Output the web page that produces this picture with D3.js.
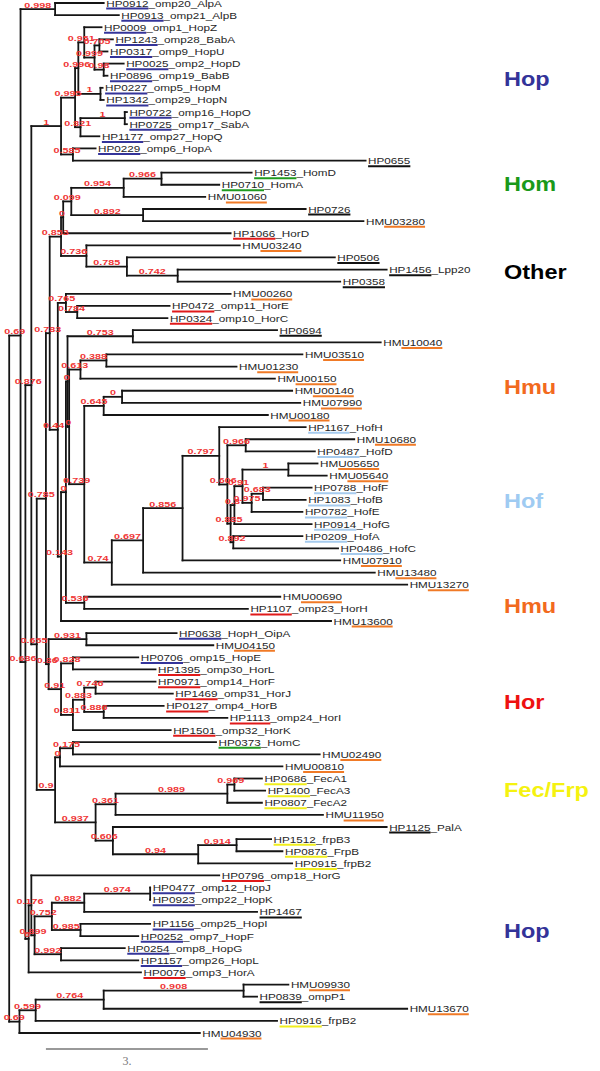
<!DOCTYPE html>
<html><head><meta charset="utf-8">
<script src="https://cdn.jsdelivr.net/npm/d3@7"></script>
<style>body{margin:0;background:#fff}</style>
</head><body><svg id="c" width="600" height="1071"></svg>
<script>
// ---- leaves (top to bottom) ----
const leafNames=["HP0912_omp20_AlpA","HP0913_omp21_AlpB","HP0009_omp1_HopZ","HP1243_omp28_BabA","HP0317_omp9_HopU","HP0025_omp2_HopD","HP0896_omp19_BabB","HP0227_omp5_HopM","HP1342_omp29_HopN","HP0722_omp16_HopO","HP0725_omp17_SabA","HP1177_omp27_HopQ","HP0229_omp6_HopA","HP0655","HP1453_HomD","HP0710_HomA","HMU01060","HP0726","HMU03280","HP1066_HorD","HMU03240","HP0506","HP1456_Lpp20","HP0358","HMU00260","HP0472_omp11_HorE","HP0324_omp10_HorC","HP0694","HMU10040","HMU03510","HMU01230","HMU00150","HMU00140","HMU07990","HMU00180","HP1167_HofH","HMU10680","HP0487_HofD","HMU05650","HMU05640","HP0788_HofF","HP1083_HofB","HP0782_HofE","HP0914_HofG","HP0209_HofA","HP0486_HofC","HMU07910","HMU13480","HMU13270","HMU00690","HP1107_omp23_HorH","HMU13600","HP0638_HopH_OipA","HMU04150","HP0706_omp15_HopE","HP1395_omp30_HorL","HP0971_omp14_HorF","HP1469_omp31_HorJ","HP0127_omp4_HorB","HP1113_omp24_HorI","HP1501_omp32_HorK","HP0373_HomC","HMU02490","HMU00810","HP0686_FecA1","HP1400_FecA3","HP0807_FecA2","HMU11950","HP1125_PalA","HP1512_frpB3","HP0876_FrpB","HP0915_frpB2","HP0796_omp18_HorG","HP0477_omp12_HopJ","HP0923_omp22_HopK","HP1467","HP1156_omp25_HopI","HP0252_omp7_HopF","HP0254_omp8_HopG","HP1157_omp26_HopL","HP0079_omp3_HorA","HMU09930","HP0839_ompP1","HMU13670","HP0916_frpB2","HMU04930"];
const leafParent=["N998","N998","N951","N705","N705","N98","N98","NMN","NMN","NOS","NOS","N821","N585","N585","N966a","N966a","N954","N892a","N892a","N0c","N736","N785b","N742","N742","N765","N784","N784","N753","N753","N388","N388","N613","N0a","N0a","N645","N797","N966b","N966b","N1c","N1c","N683","N683","N975","N8xx","N892b","N892b","N856","N697","N74","N536","N536","P53","N931","N931","N828","N828","N746","N746","N886","N886","N811","N175","N175","N0d","N969","N969","N989","N361","N606b","N914","N914","N94","N176","N974","N974","N882","N985","N985","N992","N992","Z","N908","N908","N764","N599","B69"];
const leafDepth=[1.75,2.03,1.71,1.92,1.82,2.12,1.82,1.73,1.75,2.18,2.18,1.67,1.60,6.60,4.49,3.89,3.63,5.49,6.56,4.10,4.27,6.03,6.99,6.13,4.10,2.97,2.93,4.96,6.88,5.43,4.21,4.92,5.24,5.39,4.79,5.49,6.39,5.66,5.71,5.88,5.60,5.49,5.43,5.60,5.43,6.09,6.13,6.77,7.37,5.02,4.42,5.96,3.10,3.78,2.39,2.71,2.71,3.03,2.86,4.04,2.99,3.83,5.75,5.06,4.68,4.74,4.68,5.81,6.99,4.85,5.06,5.24,3.89,2.61,2.61,4.59,2.61,2.39,2.14,2.39,2.44,5.17,4.59,7.37,4.96,3.53];
const leafGroup=["hop","hop","hop","hop","hop","hop","hop","hop","hop","hop","hop","hop","hop","oth","hom","hom","hmu","oth","hmu","hor","hmu","oth","oth","oth","hmu","hor","hor","oth","hmu","hmu","hmu","hmu","hmu","hmu","hmu","hof","hmu","hof","hmu","hmu","hof","hof","hof","hof","hof","hof","hmu","hmu","hmu","hmu","hor","hmu","hop","hmu","hop","hor","hor","hor","hor","hor","hor","hom","hmu","hmu","fec","fec","fec","hmu","oth","fec","fec","fec","hor","hop","hop","oth","hop","hop","hop","hop","hor","hmu","oth","hmu","fec","hmu"];

// ---- internal nodes ----
const nodeIds=["R","T","B69","N998","N686","N876","Z","N1big","W","N995","N585","N996","N821","N951","NMN","N999","N705","N98","NOS","M785","V9","M783","N860","N853","Q","N0c","N099","N954","N966a","N892a","N736","N785b","N742","N765","N784","P53","P57","N0b","N536","N753","N427","N613","N388","N739","N645","N0a","N74","N697","N856","N797","N606","N966b","N885","N8xx","N91b","N1c","N975","N683","N892b","N931","N91","N828","N811","N883","N746","N886","N0d","N175","N937","N361","N989","N969","N606b","N94","N914","N176","N899","N752","N882","N974","N985","N992","N599","N764","N908"];
const nodeParent=[null,"R","R","T","T","N686","N686","N876","N876","N1big","N1big","N995","N995","N996","N996","N951","N999","N999","N821","W","W","M785","M785","M783","M783","N853","N0c","N099","N954","N099","N853","N736","N785b","Q","N765","Q","P53","P57","P57","N0b","N0b","N427","N613","N427","N739","N645","N739","N74","N697","N856","N797","N606","N606","N885","N8xx","N91b","N91b","N975","N885","N860","N860","N91","N91","N811","N883","N883","V9","N0d","V9","N937","N361","N989","N937","N606b","N94","Z","N176","N899","N752","N882","N752","N899","B69","N599","N764"];
const nodeDepth=[0,0.21,0.19,0.85,0.30,0.41,0.36,0.96,0.51,1.22,1.18,1.28,1.32,1.39,1.69,1.58,1.67,1.75,2.14,0.68,0.85,0.75,0.73,0.96,0.90,1.00,1.15,2.12,2.82,2.48,1.43,2.18,3.12,1.05,1.26,0.96,1.05,1.08,1.39,2.29,1.11,1.32,1.80,1.39,1.75,2.09,1.90,2.48,3.21,3.89,4.04,4.38,4.10,4.17,4.32,5.17,4.49,4.70,4.15,1.43,0.96,1.18,1.18,1.39,1.60,1.75,0.94,1.18,1.60,1.97,4.04,4.17,1.92,3.50,4.21,0.41,0.47,0.79,1.39,2.61,1.32,0.96,0.49,1.75,4.34];
const nodeSupport=["","0.69","0.69","0.998","0.686","0.876","0","1","0.655","0.995","0.585","0.996","0.821","0.951","1","0.999","0.705","0.98","1","0.785","0.9","0.783","0.86","0.853","0.44","0","0.099","0.954","0.966","0.892","0.736","0.785","0.742","0.765","0.784","0.143","0","0","0.536","0.753","0","0.613","0.388","0.739","0.645","0","0.74","0.697","0.856","0.797","0.606","0.966","0.885","0.8","0.91","1","0.975","0.683","0.892","0.931","0.91","0.828","0.811","0.883","0.746","0.886","0","0.175","0.937","0.361","0.989","0.969","0.606","0.94","0.914","0.176","0.899","0.752","0.882","0.974","0.985","0.992","0.599","0.764","0.908"];

// ---- group labels ----
const groupNames=["Hop","Hom","Other","Hmu","Hof","Hmu","Hor","Fec/Frp","Hop"];
const groupKeys=["hop","hom","oth","hmu","hof","hmu","hor","fec","hop"];
const groupRows=[6.85,15.5,22.77,32.26,41.67,50.33,58.25,65.5,77.15];
const scaleBarUnits=3;

const underlineColor={hop:"#34349a",hom:"#1f9a1f",oth:"#111",hmu:"#f07a26",hof:"#a6cbee",hor:"#e01a1a",fec:"#f0ee1c"};
const groupColor={hop:"#333399",hom:"#1a991a",oth:"#000",hmu:"#f26a1e",hof:"#9fcbf2",hor:"#ee1111",fec:"#f5f210"};

const svg=d3.select("#c");
const x=d3.scaleLinear().domain([0,1]).range([9.2,63.2]);
const y=d3.scaleLinear().domain([0,leafNames.length-1]).range([3,1033]);

const rows=nodeIds.map((id,i)=>({id,parent:nodeParent[i],depth:nodeDepth[i],support:nodeSupport[i]}))
 .concat(leafNames.map((n,i)=>({id:n,parent:leafParent[i],depth:leafDepth[i],group:leafGroup[i],index:i})));
const root=d3.stratify().id(d=>d.id).parentId(d=>d.parent)(rows);
root.eachAfter(n=>{
  n.px=x(n.data.depth);
  if(!n.children){n.py=y(n.data.index);}
  else{const ys=n.children.map(c=>c.py);n.y0=d3.min(ys);n.y1=d3.max(ys);n.py=(n.y0+n.y1)/2;}
});
const nodes=root.descendants();
const g=svg.append("g");
g.selectAll("line.h").data(nodes.filter(n=>n.parent)).join("line")
 .attr("x1",n=>n.parent.px).attr("x2",n=>n.px).attr("y1",n=>n.py).attr("y2",n=>n.py)
 .attr("stroke","#151515").attr("stroke-width",1.8).attr("stroke-linecap","square");
g.selectAll("line.v").data(nodes.filter(n=>n.children)).join("line")
 .attr("x1",n=>n.px).attr("x2",n=>n.px).attr("y1",n=>n.y0).attr("y2",n=>n.y1)
 .attr("stroke","#151515").attr("stroke-width",1.8).attr("stroke-linecap","square");

const SX=1.22;
const leaves=nodes.filter(n=>!n.children);
leaves.forEach(n=>{
  const tx=n.px+2.5, ty=n.py+3.5;
  const t=svg.append("text").attr("transform",`translate(${tx},${ty}) scale(${SX},1)`)
    .attr("font-family","Liberation Sans, Arial, sans-serif").attr("font-size",9.6).attr("fill","#262626").text(n.data.id);
  const name=n.data.id; const el=t.node();
  let s,e;
  if(name.startsWith("HMU")){s=el.getSubStringLength(0,2);e=el.getComputedTextLength();}
  else{s=0;e=el.getSubStringLength(0,6);}
  svg.append("line").attr("x1",tx+s*SX).attr("x2",tx+e*SX).attr("y1",n.py+5.6).attr("y2",n.py+5.6)
    .attr("stroke",underlineColor[n.data.group]).attr("stroke-width",2);
});

nodes.filter(n=>n.parent && n.data.support!==undefined && n.data.support!=="").forEach(n=>{
  const cx=(n.parent.px+n.px)/2;
  svg.append("text").attr("transform",`translate(${cx},${n.py-1.5}) scale(1.35,1)`)
   .attr("text-anchor","middle").attr("font-family","Liberation Sans, Arial, sans-serif")
   .attr("font-weight","bold").attr("font-size",8).attr("fill","#ef3535").text(n.data.support);
});

groupNames.forEach((name,i)=>{
  svg.append("text").attr("transform",`translate(504,${y(groupRows[i])}) scale(1.12,1)`)
   .attr("font-family","Liberation Sans, Arial, sans-serif").attr("font-size",21).attr("font-weight","bold")
   .attr("fill",groupColor[groupKeys[i]]).text(name);
});

const sb0=0.68;
svg.append("line").attr("x1",x(sb0)).attr("x2",x(sb0+scaleBarUnits)).attr("y1",1049).attr("y2",1049)
 .attr("stroke","#999").attr("stroke-width",2);
svg.append("text").attr("x",(x(sb0)+x(sb0+scaleBarUnits))/2).attr("y",1065).attr("text-anchor","middle")
 .attr("font-family","Liberation Serif, serif").attr("font-size",12).attr("fill","#777").text(scaleBarUnits+".");
</script></body></html>
